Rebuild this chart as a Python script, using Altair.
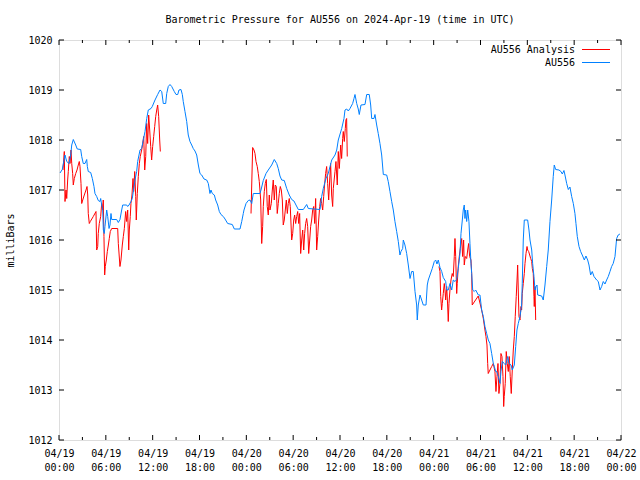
import altair as alt
import pandas as pd

# ---------------- data (hours since 2024-04-19 00:00 UTC, millibars) ----------------
blue_hours = [0.13, 0.42, 0.77, 0.99, 1.28, 1.50, 1.63, 1.83, 2.14, 2.34, 2.78, 2.91, 3.11, 3.33, 3.55, 3.63,
              3.75, 4.06, 4.27, 4.48, 4.61, 4.83, 5.03, 5.25, 5.34, 5.47, 5.60, 5.68, 5.80, 5.89, 6.11, 6.24,
              6.41, 6.53, 6.66, 6.75, 7.39, 7.60, 7.81, 8.03, 8.16, 8.67, 8.80, 8.97, 9.22, 9.39, 9.61, 9.74,
              9.95, 10.08, 10.25, 10.38, 10.59, 10.80, 11.02, 11.24, 11.44, 11.79, 11.95, 12.30, 12.64, 12.94,
              13.16, 13.36, 13.67, 13.80, 14.00, 14.22, 14.44, 14.77, 14.99, 15.21, 15.37, 15.63, 15.80, 15.92,
              16.14, 16.36, 16.56, 16.78, 17.00, 17.20, 17.42, 17.64, 17.85, 18.06, 18.28, 18.58, 18.92, 19.13,
              19.34, 19.47, 19.64, 19.90, 20.07, 20.33, 20.54, 20.75, 21.05, 21.27, 21.61, 22.20, 22.46, 23.19,
              23.41, 23.61, 23.70, 23.96, 24.25, 24.47, 24.69, 24.89, 25.75, 25.88, 26.17, 26.52, 26.81, 27.25,
              27.58, 27.89, 28.09, 28.31, 28.53, 28.86, 29.17, 29.50, 29.81, 30.10, 30.36, 30.66, 31.30, 31.73,
              31.94, 33.44, 33.65, 33.86, 34.20, 34.50, 34.72, 34.94, 35.36, 35.58, 35.78, 36.22, 36.51, 36.64,
              36.86, 37.06, 37.28, 37.62, 37.79, 37.92, 38.14, 38.34, 38.47, 38.69, 39.20, 39.42, 39.75, 39.93,
              40.06, 40.35, 40.48, 40.70, 40.90, 41.12, 41.34, 41.55, 41.98, 42.18, 42.40, 42.62, 42.83, 43.04,
              43.26, 43.47, 43.68, 43.81, 44.03, 44.11, 44.32, 44.54, 44.75, 44.97, 45.18, 45.39, 45.61, 45.82,
              45.90, 46.03, 46.25, 46.46, 46.67, 47.02, 47.18, 47.31, 47.53, 47.82, 48.08, 48.26, 48.42, 48.59,
              48.81, 49.03, 49.23, 49.54, 49.67, 49.87, 50.09, 50.31, 50.51, 50.73, 50.95, 51.15, 51.37, 51.50,
              51.67, 51.79, 51.92, 52.01, 52.10, 52.23, 52.36, 52.52, 52.65, 52.78, 52.87, 53.00, 53.20, 53.38,
              53.72, 53.93, 54.15, 54.36, 54.57, 54.79, 55.00, 55.21, 55.43, 55.64, 55.77, 55.94, 56.07, 56.28,
              56.50, 56.62, 56.79, 57.05, 57.23, 57.48, 57.65, 57.91, 58.07, 58.33, 58.51, 58.67, 58.84, 59.06,
              59.27, 59.35, 59.48, 59.61, 60.04, 60.21, 60.34, 60.56, 60.68, 60.85, 60.98, 61.11, 61.24, 61.33,
              61.84, 62.04, 62.26, 62.48, 62.68, 62.90, 63.12, 63.32, 63.45, 63.63, 64.05, 64.31, 64.48, 64.69,
              64.82, 65.04, 65.25, 65.46, 65.68, 65.89, 66.10, 66.23, 66.40, 66.62, 66.83, 67.09, 67.30, 67.51,
              67.73, 67.90, 68.11, 68.32, 68.54, 68.88, 69.09, 69.31, 69.52, 69.73, 69.95, 70.16, 70.37, 70.59,
              70.80, 71.00, 71.23, 71.44, 71.64, 71.86]
blue_mbar = [1017.34, 1017.41, 1017.70, 1017.57, 1017.53, 1017.70, 1017.90, 1018.01, 1017.90, 1017.82, 1017.81,
             1017.67, 1017.53, 1017.53, 1017.61, 1017.47, 1017.37, 1017.35, 1017.23, 1017.07, 1016.93, 1016.87,
             1016.79, 1016.77, 1016.83, 1016.70, 1016.60, 1016.20, 1016.13, 1016.27, 1016.60, 1016.47, 1016.23,
             1016.30, 1016.53, 1016.41, 1016.41, 1016.35, 1016.41, 1016.60, 1016.70, 1016.70, 1016.67, 1016.70,
             1016.77, 1016.83, 1017.07, 1017.20, 1017.37, 1017.57, 1017.70, 1017.80, 1017.83, 1018.00, 1018.17,
             1018.43, 1018.60, 1018.63, 1018.67, 1018.80, 1018.91, 1019.00, 1018.97, 1018.73, 1018.73, 1018.93,
             1019.07, 1019.11, 1019.07, 1018.97, 1018.91, 1018.91, 1019.00, 1019.01, 1018.91, 1018.77, 1018.57,
             1018.37, 1018.10, 1017.97, 1017.90, 1017.83, 1017.78, 1017.70, 1017.50, 1017.33, 1017.30, 1017.22,
             1017.20, 1017.13, 1016.93, 1017.00, 1016.93, 1016.90, 1016.80, 1016.70, 1016.57, 1016.51, 1016.47,
             1016.42, 1016.33, 1016.31, 1016.22, 1016.22, 1016.37, 1016.53, 1016.60, 1016.73, 1016.79, 1016.80,
             1016.73, 1016.93, 1016.93, 1017.00, 1017.19, 1017.33, 1017.40, 1017.50, 1017.61, 1017.53, 1017.43,
             1017.28, 1017.20, 1017.19, 1017.03, 1016.90, 1016.81, 1016.78, 1016.70, 1016.61, 1016.61, 1016.71,
             1016.63, 1016.61, 1016.87, 1017.03, 1017.23, 1017.33, 1017.47, 1017.60, 1017.70, 1017.80, 1018.00,
             1018.23, 1018.43, 1018.60, 1018.62, 1018.58, 1018.63, 1018.73, 1018.83, 1018.91, 1018.73, 1018.62,
             1018.51, 1018.70, 1018.71, 1018.91, 1018.91, 1018.70, 1018.43, 1018.43, 1018.51, 1018.30, 1018.13,
             1017.93, 1017.70, 1017.31, 1017.30, 1017.17, 1016.97, 1016.77, 1016.60, 1016.37, 1016.17, 1015.97,
             1015.70, 1015.77, 1015.83, 1016.00, 1015.90, 1015.73, 1015.50, 1015.23, 1015.37, 1015.37, 1014.97,
             1014.70, 1014.40, 1014.70, 1014.90, 1014.80, 1014.70, 1014.70, 1015.10, 1015.20, 1015.30, 1015.43,
             1015.57, 1015.60, 1015.52, 1015.60, 1015.45, 1015.37, 1015.25, 1015.17, 1015.00, 1015.00, 1015.13,
             1015.00, 1015.20, 1015.17, 1015.21, 1015.43, 1015.73, 1016.13, 1016.40, 1016.60, 1016.70, 1016.43,
             1016.60, 1016.37, 1016.60, 1016.37, 1015.93, 1015.53, 1015.33, 1015.00, 1014.97, 1015.00, 1014.90,
             1014.90, 1014.60, 1014.47, 1014.27, 1014.13, 1014.00, 1013.93, 1013.73, 1013.53, 1013.47, 1013.37,
             1013.37, 1013.27, 1013.13, 1013.37, 1013.57, 1013.53, 1013.50, 1013.67, 1013.53, 1013.50, 1013.40,
             1013.50, 1013.87, 1014.20, 1014.33, 1014.47, 1014.70, 1015.13, 1016.00, 1016.40, 1016.40, 1016.20,
             1016.00, 1015.80, 1015.53, 1015.27, 1015.00, 1015.07, 1015.10, 1014.90, 1014.88, 1014.80, 1015.10,
             1015.47, 1015.80, 1016.37, 1016.80, 1017.27, 1017.50, 1017.41, 1017.40, 1017.37, 1017.32, 1017.39,
             1017.30, 1017.13, 1017.01, 1017.06, 1016.87, 1016.73, 1016.53, 1016.33, 1016.07, 1015.87, 1015.77,
             1015.68, 1015.60, 1015.68, 1015.60, 1015.50, 1015.30, 1015.37, 1015.27, 1015.20, 1015.17, 1015.00,
             1015.07, 1015.17, 1015.12, 1015.20, 1015.27, 1015.37, 1015.47, 1015.53, 1015.67, 1016.03, 1016.10,
             1016.12]

red1_hours = [0.51, 0.68, 0.77, 0.90, 0.99, 1.11, 1.19, 1.32, 1.41, 1.54, 1.63, 1.75, 1.83, 1.96, 2.14, 2.31,
              2.47, 2.60, 2.69, 2.82, 2.91, 3.04, 3.24, 3.46, 3.59, 3.68, 3.75, 3.88, 4.01, 4.39, 4.74, 4.83,
              4.96, 5.03, 5.16, 5.34, 5.47, 5.60, 5.67, 5.76, 5.85, 5.93, 6.06, 6.19, 6.32, 6.44, 6.57, 6.75,
              7.52, 7.60, 7.81, 7.94, 8.11, 8.24, 8.37, 8.54, 8.67, 8.80, 8.93, 9.01, 9.13, 9.22, 9.35, 9.48,
              9.57, 9.70, 9.83, 9.90, 10.03, 10.16, 10.29, 10.41, 10.59, 10.72, 10.85, 10.98, 11.11, 11.23,
              11.36, 11.49, 11.62, 11.75, 11.87, 12.00, 12.13, 12.26, 12.39, 12.52, 12.64, 12.77, 12.90, 12.98]
red1_mbar = [1017.40, 1017.77, 1016.77, 1017.00, 1016.83, 1017.20, 1017.37, 1017.67, 1017.53, 1017.80, 1017.53,
             1017.33, 1017.10, 1017.23, 1017.33, 1017.40, 1017.50, 1017.57, 1017.47, 1017.13, 1016.73, 1016.80,
             1016.90, 1017.00, 1017.07, 1016.90, 1016.53, 1016.33, 1016.37, 1016.47, 1016.57, 1015.80, 1015.87,
             1016.13, 1016.33, 1016.47, 1016.73, 1016.60, 1016.80, 1016.07, 1015.30, 1015.47, 1015.60, 1015.77,
             1015.90, 1016.03, 1016.17, 1016.23, 1016.23, 1015.93, 1015.47, 1015.60, 1015.90, 1016.07, 1016.23,
             1016.57, 1016.37, 1016.60, 1015.80, 1016.20, 1016.47, 1016.73, 1016.90, 1017.23, 1016.97, 1017.37,
             1016.87, 1016.40, 1016.93, 1017.27, 1017.53, 1017.67, 1017.80, 1017.93, 1018.07, 1017.40, 1017.67,
             1018.33, 1017.93, 1018.50, 1018.20, 1017.87, 1017.60, 1017.87, 1018.07, 1018.27, 1018.47, 1018.60,
             1018.70, 1018.47, 1018.00, 1017.77]

red2_hours = [24.60, 24.81, 24.98, 25.11, 25.24, 25.40, 25.53, 25.66, 25.84, 25.97, 26.09, 26.17, 26.30, 26.43,
              26.56, 26.68, 26.81, 26.94, 27.03, 27.20, 27.33, 27.45, 27.58, 27.71, 27.84, 27.96, 28.09, 28.22,
              28.35, 28.48, 28.61, 28.73, 28.86, 28.99, 29.12, 29.25, 29.37, 29.50, 29.63, 29.81, 29.94, 30.07,
              30.19, 30.32, 30.45, 30.58, 30.71, 30.83, 30.96, 31.09, 31.22, 31.35, 31.47, 31.60, 31.73, 31.86,
              31.99, 32.12, 32.24, 32.37, 32.50, 32.63, 32.76, 32.88, 33.01, 33.14, 33.27, 33.40, 33.52, 33.65,
              33.78, 33.91, 34.04, 34.16, 34.29, 34.42, 34.55, 34.68, 34.80, 34.93, 35.06, 35.14, 35.36, 35.48,
              35.65, 35.78, 35.91, 36.09, 36.21, 36.34, 36.42, 36.55, 36.68, 36.76, 36.85, 36.93]
red2_mbar = [1016.53, 1017.85, 1017.80, 1017.73, 1017.57, 1017.47, 1017.33, 1017.17, 1016.80, 1015.93, 1016.27,
             1016.67, 1016.97, 1017.13, 1017.21, 1016.67, 1016.50, 1016.90, 1016.60, 1016.73, 1017.00, 1017.20,
             1016.80, 1017.10, 1017.07, 1016.53, 1016.73, 1016.93, 1017.07, 1017.00, 1016.80, 1016.30, 1016.40,
             1016.60, 1016.80, 1016.53, 1016.73, 1016.83, 1016.67, 1016.00, 1016.13, 1016.40, 1016.50, 1016.33,
             1016.47, 1016.57, 1016.33, 1016.53, 1015.73, 1016.00, 1016.20, 1015.80, 1016.13, 1016.33, 1016.43,
             1016.27, 1015.73, 1016.00, 1016.27, 1016.40, 1016.60, 1016.67, 1016.33, 1016.83, 1015.80, 1016.07,
             1016.40, 1016.67, 1016.83, 1016.73, 1016.60, 1016.87, 1017.13, 1017.33, 1017.47, 1017.13, 1016.80,
             1017.20, 1017.53, 1016.90, 1016.67, 1017.03, 1017.37, 1017.57, 1017.10, 1017.77, 1017.43, 1017.90,
             1017.63, 1018.03, 1018.17, 1017.97, 1018.23, 1018.40, 1018.43, 1017.67]

red3_hours = [48.68, 48.81, 48.90, 49.02, 49.10, 49.23, 49.36, 49.45, 49.54, 49.67, 49.79, 49.87, 49.96, 50.09,
              50.22, 50.38, 50.51, 50.64, 50.73, 50.82, 50.95, 51.02, 51.15, 51.28, 51.41, 51.59, 51.71, 51.84,
              51.92, 52.05, 52.23, 52.36, 52.48, 52.61, 52.78, 52.87, 52.91, 52.94, 53.71, 54.15, 54.36, 54.57,
              54.70, 54.83, 54.92, 54.99, 55.21, 55.43, 55.64, 55.85, 55.98, 56.11, 56.24, 56.36, 56.49, 56.62,
              56.75, 56.88, 56.97, 57.04, 57.17, 57.30, 57.43, 57.56, 57.68, 57.81, 57.94, 58.07, 58.20, 58.33,
              58.45, 58.58, 58.71, 58.76, 58.84, 58.93, 59.06, 59.19, 59.27, 59.35, 59.48, 59.61, 59.70, 59.83,
              59.96, 60.04, 60.17, 60.30, 60.43, 60.56, 60.64, 60.76, 60.85, 60.89, 60.98, 61.07]
red3_mbar = [1015.47, 1015.37, 1014.87, 1014.60, 1014.73, 1014.93, 1015.13, 1015.00, 1014.80, 1015.07, 1014.70,
             1014.37, 1014.73, 1015.00, 1015.20, 1015.33, 1015.27, 1015.67, 1016.03, 1015.67, 1014.93, 1015.13,
             1015.47, 1015.67, 1015.83, 1016.03, 1015.67, 1016.00, 1015.50, 1015.67, 1015.63, 1015.80, 1015.93,
             1015.67, 1015.60, 1015.33, 1015.00, 1014.70, 1014.88, 1014.60, 1014.43, 1014.20, 1014.07, 1013.90,
             1013.53, 1013.33, 1013.40, 1013.47, 1013.53, 1013.37, 1012.97, 1013.27, 1013.53, 1012.93, 1013.13,
             1013.73, 1013.67, 1013.27, 1012.67, 1012.87, 1013.13, 1013.77, 1013.53, 1013.37, 1013.67, 1013.27,
             1012.93, 1013.40, 1013.80, 1014.07, 1014.47, 1014.87, 1015.30, 1015.50, 1015.00, 1014.47, 1014.40,
             1014.67, 1014.60, 1014.93, 1015.13, 1015.33, 1015.53, 1015.73, 1015.87, 1015.80, 1015.77, 1015.70,
             1015.63, 1015.57, 1015.43, 1015.33, 1014.87, 1014.67, 1015.07, 1014.40]

x_major_hours = [0, 6, 12, 18, 24, 30, 36, 42, 48, 54, 60, 66, 72]
x_minor_hours = [3, 9, 15, 21, 27, 33, 39, 45, 51, 57, 63, 69]
y_tick_values = [1012, 1013, 1014, 1015, 1016, 1017, 1018, 1019, 1020]
legend_labels = ["AU556 Analysis", "AU556"]

TITLE = "Barometric Pressure for AU556 on 2024-Apr-19 (time in UTC)"
FONT = "DejaVu Sans Mono"
RED = "#ff0000"
BLUE = "#0080ff"
W, H = 562, 400

# ---------------- frames ----------------
blue_df = pd.DataFrame({"hours": blue_hours, "mbar": blue_mbar})
red_df = pd.concat([
    pd.DataFrame({"hours": red1_hours, "mbar": red1_mbar, "seg": "a"}),
    pd.DataFrame({"hours": red2_hours, "mbar": red2_mbar, "seg": "b"}),
    pd.DataFrame({"hours": red3_hours, "mbar": red3_mbar, "seg": "c"}),
], ignore_index=True)
xmaj_df = pd.DataFrame({"hours": x_major_hours})
xmin_df = pd.DataFrame({"hours": x_minor_hours})
ytick_df = pd.DataFrame({"mbar": y_tick_values})
legend_df = pd.DataFrame({"label": legend_labels})

x_scale = alt.Scale(domain=[0, 72], nice=False, zero=False)
y_scale = alt.Scale(domain=[1012, 1020], nice=False, zero=False)

x_axis = alt.Axis(
    values=x_major_hours,
    labelExpr="['04/' + (19 + floor(datum.value / 24)), (datum.value % 24 < 10 ? '0' : '') + (datum.value % 24) + ':00']",
    ticks=False, domain=False, grid=False,
    labelFont=FONT, labelFontSize=10, labelColor="black",
    labelPadding=8, labelBaseline="top", labelLineHeight=14,
    labelFlush=False, labelOverlap=False, title=None,
)
y_axis = alt.Axis(
    values=y_tick_values, format="d",
    ticks=False, domain=False, grid=False,
    labelFont=FONT, labelFontSize=10, labelColor="black", labelPadding=7,
    title="milliBars", titleFont=FONT, titleFontSize=10, titleFontWeight="normal",
    titleColor="black", titleX=-49, titleY=200, titleAlign="center", titleBaseline="middle",
)

X = alt.X("hours:Q", scale=x_scale, axis=x_axis)
Y = alt.Y("mbar:Q", scale=y_scale, axis=y_axis)

red_line = alt.Chart(red_df).mark_line(color=RED, strokeWidth=1).encode(x=X, y=Y, detail="seg:N")
blue_line = alt.Chart(blue_df).mark_line(color=BLUE, strokeWidth=1).encode(x=X, y=Y)

# inward tics on all four sides (gnuplot style)
xmaj_bot = alt.Chart(xmaj_df).mark_rule(color="black", strokeWidth=1).encode(x=X, y=alt.value(H), y2=alt.value(H - 5))
xmaj_top = alt.Chart(xmaj_df).mark_rule(color="black", strokeWidth=1).encode(x=X, y=alt.value(0), y2=alt.value(5))
xmin_bot = alt.Chart(xmin_df).mark_rule(color="black", strokeWidth=1).encode(x=X, y=alt.value(H), y2=alt.value(H - 3))
xmin_top = alt.Chart(xmin_df).mark_rule(color="black", strokeWidth=1).encode(x=X, y=alt.value(0), y2=alt.value(3))
y_left = alt.Chart(ytick_df).mark_rule(color="black", strokeWidth=1).encode(y=Y, x=alt.value(0), x2=alt.value(5))
y_right = alt.Chart(ytick_df).mark_rule(color="black", strokeWidth=1).encode(y=Y, x=alt.value(W), x2=alt.value(W - 5))

# key (gnuplot style: label left, sample line right)
key_text1 = alt.Chart(legend_df).transform_filter(alt.datum.label == legend_labels[0]).mark_text(
    font=FONT, fontSize=10, align="right", baseline="middle", color="black"
).encode(text="label:N", x=alt.value(516), y=alt.value(10))
key_text2 = alt.Chart(legend_df).transform_filter(alt.datum.label == legend_labels[1]).mark_text(
    font=FONT, fontSize=10, align="right", baseline="middle", color="black"
).encode(text="label:N", x=alt.value(516), y=alt.value(23))
key_line1 = alt.Chart(legend_df).transform_filter(alt.datum.label == legend_labels[0]).mark_rule(
    color=RED, strokeWidth=1
).encode(x=alt.value(523), x2=alt.value(551), y=alt.value(9.5))
key_line2 = alt.Chart(legend_df).transform_filter(alt.datum.label == legend_labels[1]).mark_rule(
    color=BLUE, strokeWidth=1
).encode(x=alt.value(523), x2=alt.value(551), y=alt.value(22.5))

chart = alt.layer(
    red_line, blue_line,
    xmaj_bot, xmaj_top, xmin_bot, xmin_top, y_left, y_right,
    key_text1, key_text2, key_line1, key_line2,
).properties(
    width=W, height=H,
    title=alt.TitleParams(TITLE, font=FONT, fontSize=10, fontWeight="normal", color="black",
                          anchor="middle", baseline="bottom", offset=0),
    autosize=alt.AutoSizeParams(type="none"),
    padding={"left": 59, "top": 40, "right": 19, "bottom": 40},
).configure_view(
    stroke="black", strokeWidth=1
).configure(background="white")

chart.save("out.html", embed_options={"renderer": "svg", "actions": False})
